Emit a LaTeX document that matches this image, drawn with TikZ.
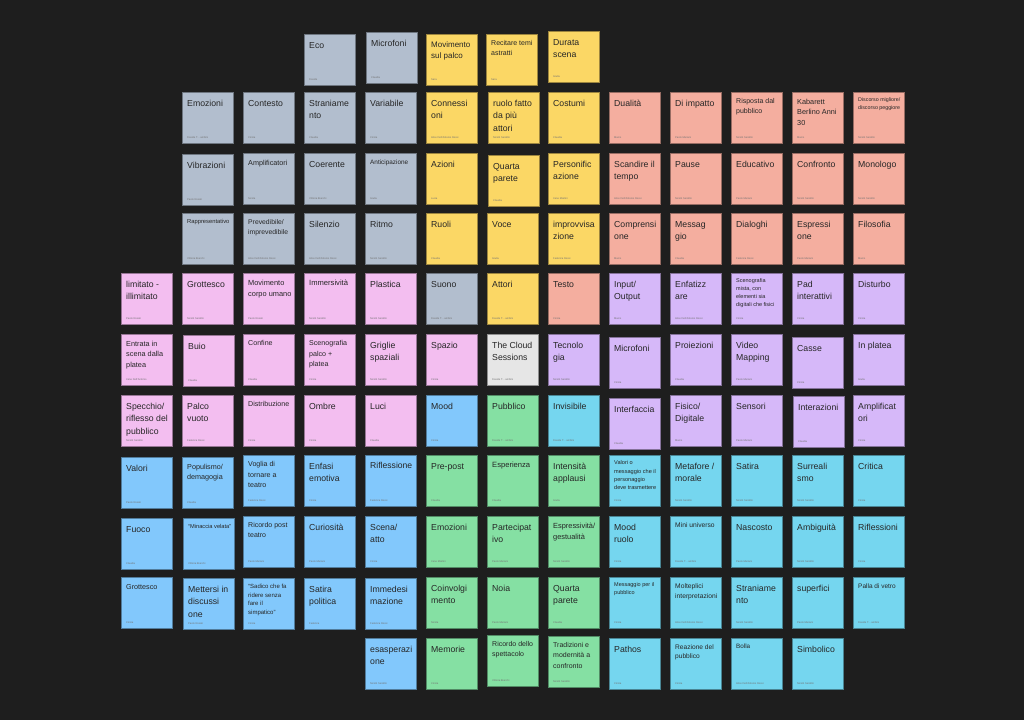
\documentclass[tikz,border=0pt]{standalone}
\usepackage{fontspec}
\usepackage{tikz}
\usetikzlibrary{positioning}
\newfontfamily\notefont{Liberation Sans}
\definecolor{bg}{HTML}{1E1E1E}
\definecolor{cgray}{HTML}{B2BECE}
\definecolor{cyellow}{HTML}{FBD765}
\definecolor{csalmon}{HTML}{F4AE9F}
\definecolor{cpink}{HTML}{F3BEF0}
\definecolor{cviolet}{HTML}{D6B8F9}
\definecolor{cblue}{HTML}{82C8FC}
\definecolor{cgreen}{HTML}{85E0A3}
\definecolor{cteal}{HTML}{75D6EF}
\definecolor{cwhite}{HTML}{E6E6E6}
% sticky note: [font size]{name}{x}{y}{colour}{text}{author}
\newcommand{\sticky}[7][8.7]{%
  \node[note, fill=#5, draw=#5!62!black] (#2) at (#3,#4) {};
  \node[notetext, font=\notefont\fontsize{#1}{\fpeval{1.45*#1}}\selectfont]
    (#2-t) at ([shift={(5,0.54*#1+2.5)}]#2.north west) {\rule{0pt}{\fpeval{0.76*#1}pt}#6};
  \node[notewho] (#2-a) at ([shift={(5,-5)}]#2.south west) {#7};
}
\begin{document}
\begin{tikzpicture}[x=1pt, y=-1pt,
    note/.style={anchor=north west, minimum width=51pt, minimum height=51pt,
      inner sep=0pt, outer sep=0pt, line width=0.6pt},
    notetext/.style={anchor=north west, inner sep=0pt, align=left, text=black!85},
    notewho/.style={anchor=base west, inner sep=0pt, text=black!55,
      font=\notefont\fontsize{2.6}{3}\selectfont}]
  % background %
  \fill[bg] (0,0) rectangle (1024,720);
  \useasboundingbox (0,0) rectangle (1024,720);
  % row 0 %
  \sticky{eco}{304}{34}{cgray}{Eco}{Davide}
  \sticky{mic}{366}{32}{cgray}{Microfoni}{Claudia}
  \sticky[8.0]{movpalco}{426}{34}{cyellow}{Movimento\\sul palco}{Sara}
  \sticky[7.0]{recitare}{486}{34}{cyellow}{Recitare temi\\astratti}{Sara}
  \sticky{durata}{548}{31}{cyellow}{Durata\\scena}{Giulia}
  % row 1 %
  \sticky{emoz}{182}{92}{cgray}{Emozioni}{Davide T... ambini}
  \sticky{contesto}{243}{92}{cgray}{Contesto}{Cinzia}
  \sticky{stran}{304}{92}{cgray}{Straniame\\nto}{Claudia}
  \sticky{variab}{365}{92}{cgray}{Variabile}{Cinzia}
  \sticky{conn}{426}{92}{cyellow}{Connessi\\oni}{Alice Dell'Antonio Rossi}
  \sticky{ruolo}{488}{92}{cyellow}{ruolo fatto\\da più\\attori}{Nicolò Serafini}
  \sticky{costumi}{548}{92}{cyellow}{Costumi}{Claudia}
  \sticky{duali}{609}{92}{csalmon}{Dualità}{Marco}
  \sticky{impatto}{670}{92}{csalmon}{Di impatto}{Paolo Mariani}
  \sticky[7.0]{risposta}{731}{92}{csalmon}{Risposta dal\\pubblico}{Nicolò Serafini}
  \sticky[7.3]{kabarett}{792}{92}{csalmon}{Kabarett\\Berlino Anni\\30}{Marco}
  \sticky[5.3]{discorso}{853}{92}{csalmon}{Discorso migliore/\\discorso peggiore}{Nicolò Serafini}
  % row 2 %
  \sticky{vibr}{182}{154}{cgray}{Vibrazioni}{Paolo Rosati}
  \sticky[7.2]{ampli}{243}{153}{cgray}{Amplificatori}{Nicola}
  \sticky{coer}{304}{153}{cgray}{Coerente}{Vittoria Bianchi}
  \sticky[6.4]{antic}{365}{153}{cgray}{Anticipazione}{Giulia}
  \sticky{azioni}{426}{153}{cyellow}{Azioni}{Lucia}
  \sticky{quartay}{488}{155}{cyellow}{Quarta\\parete}{Claudia}
  \sticky{person}{548}{153}{cyellow}{Personific\\azione}{Irene Martini}
  \sticky{scandire}{609}{153}{csalmon}{Scandire il\\tempo}{Alice Dell'Antonio Rossi}
  \sticky{pause}{670}{153}{csalmon}{Pause}{Nicolò Serafini}
  \sticky{educ}{731}{153}{csalmon}{Educativo}{Paolo Mariani}
  \sticky{confronto}{792}{153}{csalmon}{Confronto}{Nicolò Serafini}
  \sticky{monol}{853}{153}{csalmon}{Monologo}{Nicolò Serafini}
  % row 3 %
  \sticky[5.8]{rappr}{182}{213}{cgray}{Rappresentativo}{Vittoria Bianchi}
  \sticky[6.8]{preved}{243}{213}{cgray}{Prevedibile/\\imprevedibile}{Alice Dell'Antonio Rossi}
  \sticky{silenzio}{304}{213}{cgray}{Silenzio}{Alice Dell'Antonio Rossi}
  \sticky{ritmo}{365}{213}{cgray}{Ritmo}{Nicolò Serafini}
  \sticky{ruoli}{426}{213}{cyellow}{Ruoli}{Claudia}
  \sticky{voce}{487}{213}{cyellow}{Voce}{Giulia}
  \sticky{improv}{548}{213}{cyellow}{improvvisa\\zione}{Federica Rossi}
  \sticky{compr}{609}{213}{csalmon}{Comprensi\\one}{Marco}
  \sticky{messag}{670}{213}{csalmon}{Messag\\gio}{Claudia}
  \sticky{dialoghi}{731}{213}{csalmon}{Dialoghi}{Federica Rossi}
  \sticky{espress}{792}{213}{csalmon}{Espressi\\one}{Paolo Mariani}
  \sticky{filos}{853}{213}{csalmon}{Filosofia}{Marco}
  % row 4 %
  \sticky{limitato}{121}{273}{cpink}{limitato -\\illimitato}{Paolo Rosati}
  \sticky{grottp}{182}{273}{cpink}{Grottesco}{Nicolò Serafini}
  \sticky[7.4]{movcorpo}{243}{273}{cpink}{Movimento\\corpo umano}{Paolo Rosati}
  \sticky[7.6]{immers}{304}{273}{cpink}{Immersività}{Nicolò Serafini}
  \sticky{plastica}{365}{273}{cpink}{Plastica}{Nicolò Serafini}
  \sticky{suono}{426}{273}{cgray}{Suono}{Davide T... ambini}
  \sticky{attori}{487}{273}{cyellow}{Attori}{Davide T... ambini}
  \sticky{testo}{548}{273}{csalmon}{Testo}{Cinzia}
  \sticky{input}{609}{273}{cviolet}{Input/\\Output}{Marco}
  \sticky{enfat}{670}{273}{cviolet}{Enfatizz\\are}{Alice Dell'Antonio Rossi}
  \sticky[5.5]{scenmista}{731}{273}{cviolet}{Scenografia\\mista, con\\elementi sia\\digitali che fisici}{Cinzia}
  \sticky{pad}{792}{273}{cviolet}{Pad\\interattivi}{Cinzia}
  \sticky{disturbo}{853}{273}{cviolet}{Disturbo}{Cinzia}
  % row 5 %
  \sticky[7.3]{entrata}{121}{334}{cpink}{Entrata in\\scena dalla\\platea}{Irene Dell'Antonio}
  \sticky{buio}{183}{335}{cpink}{Buio}{Claudia}
  \sticky[7.1]{confine}{243}{334}{cpink}{Confine}{Claudia}
  \sticky[7.1]{scenpalco}{304}{334}{cpink}{Scenografia\\palco +\\platea}{Cinzia}
  \sticky{griglie}{365}{334}{cpink}{Griglie\\spaziali}{Nicolò Serafini}
  \sticky{spazio}{426}{334}{cpink}{Spazio}{Cinzia}
  \sticky{cloud}{487}{334}{cwhite}{The Cloud\\Sessions}{Davide T... ambini}
  \sticky{tecno}{548}{334}{cviolet}{Tecnolo\\gia}{Nicolò Serafini}
  \sticky{micv}{609}{337}{cviolet}{Microfoni}{Cinzia}
  \sticky{proiez}{670}{334}{cviolet}{Proiezioni}{Claudia}
  \sticky{video}{731}{334}{cviolet}{Video\\Mapping}{Paolo Mariani}
  \sticky{casse}{792}{337}{cviolet}{Casse}{Cinzia}
  \sticky{inplatea}{853}{334}{cviolet}{In platea}{Giulia}
  % row 6 %
  \sticky{specchio}{121}{395}{cpink}{Specchio/\\riflesso del\\pubblico}{Nicolò Serafini}
  \sticky{palco}{182}{395}{cpink}{Palco\\vuoto}{Federica Rossi}
  \sticky[7.1]{distrib}{243}{395}{cpink}{Distribuzione}{Cinzia}
  \sticky{ombre}{304}{395}{cpink}{Ombre}{Cinzia}
  \sticky{luci}{365}{395}{cpink}{Luci}{Claudia}
  \sticky{mood}{426}{395}{cblue}{Mood}{Cinzia}
  \sticky{pubbl}{487}{395}{cgreen}{Pubblico}{Davide T... ambini}
  \sticky{invis}{548}{395}{cteal}{Invisibile}{Davide T... ambini}
  \sticky{interf}{609}{398}{cviolet}{Interfaccia}{Claudia}
  \sticky{fisico}{670}{395}{cviolet}{Fisico/\\Digitale}{Marco}
  \sticky{sensori}{731}{395}{cviolet}{Sensori}{Paolo Mariani}
  \sticky{interaz}{793}{396}{cviolet}{Interazioni}{Claudia}
  \sticky{amplv}{853}{395}{cviolet}{Amplificat\\ori}{Cinzia}
  % row 7 %
  \sticky{valori}{121}{457}{cblue}{Valori}{Paolo Rosati}
  \sticky[7.2]{populismo}{182}{457}{cblue}{Populismo/\\demagogia}{Claudia}
  \sticky[7.1]{voglia}{243}{455}{cblue}{Voglia di\\tornare a\\teatro}{Federica Rossi}
  \sticky{enfasi}{304}{455}{cblue}{Enfasi\\emotiva}{Cinzia}
  \sticky[8.6]{rifless}{365}{455}{cblue}{Riflessione}{Federica Rossi}
  \sticky{prepost}{426}{455}{cgreen}{Pre-post}{Claudia}
  \sticky[7.6]{esper}{487}{455}{cgreen}{Esperienza}{Claudia}
  \sticky{intens}{548}{455}{cgreen}{Intensità\\applausi}{Giulia}
  \sticky[5.6]{valmess}{609}{455}{cteal}{Valori o\\messaggio che il\\personaggio\\deve trasmettere}{Cinzia}
  \sticky{metafore}{670}{455}{cteal}{Metafore /\\morale}{Nicolò Serafini}
  \sticky{satira}{731}{455}{cteal}{Satira}{Nicolò Serafini}
  \sticky{surreal}{792}{455}{cteal}{Surreali\\smo}{Nicolò Serafini}
  \sticky{critica}{853}{455}{cteal}{Critica}{Cinzia}
  % row 8 %
  \sticky{fuoco}{121}{518}{cblue}{Fuoco}{Claudia}
  \sticky[5.7]{minaccia}{183}{518}{cblue}{“Minaccia velata”}{Vittoria Bianchi}
  \sticky[7.0]{ricpost}{243}{516}{cblue}{Ricordo post\\teatro}{Paolo Mariani}
  \sticky{curios}{304}{516}{cblue}{Curiosità}{Paolo Mariani}
  \sticky{scena}{365}{516}{cblue}{Scena/\\atto}{Cinzia}
  \sticky{emozg}{426}{516}{cgreen}{Emozioni}{Irene Martini}
  \sticky{partec}{487}{516}{cgreen}{Partecipat\\ivo}{Paolo Mariani}
  \sticky[7.4]{gestual}{548}{516}{cgreen}{Espressività/\\gestualità}{Nicolò Serafini}
  \sticky{moodruolo}{609}{516}{cteal}{Mood\\ruolo}{Cinzia}
  \sticky[6.7]{miniuni}{670}{516}{cteal}{Mini universo}{Davide T... ambini}
  \sticky{nascosto}{731}{516}{cteal}{Nascosto}{Paolo Mariani}
  \sticky{ambig}{792}{516}{cteal}{Ambiguità}{Nicolò Serafini}
  \sticky{riflessioni}{853}{516}{cteal}{Riflessioni}{Cinzia}
  % row 9 %
  \sticky[7.2]{grottb}{121}{577}{cblue}{Grottesco}{Cinzia}
  \sticky{mettersi}{183}{578}{cblue}{Mettersi in\\discussi\\one}{Paolo Rosati}
  \sticky[6.0]{sadico}{243}{578}{cblue}{“Sadico che fa\\ridere senza\\fare il\\simpatico”}{Cinzia}
  \sticky{satpol}{304}{578}{cblue}{Satira\\politica}{Federica}
  \sticky{immedes}{365}{578}{cblue}{Immedesi\\mazione}{Federica Rossi}
  \sticky{coinv}{426}{577}{cgreen}{Coinvolgi\\mento}{Nicola}
  \sticky{noia}{487}{577}{cgreen}{Noia}{Paolo Mariani}
  \sticky{quartag}{548}{577}{cgreen}{Quarta\\parete}{Claudia}
  \sticky[5.5]{messpub}{609}{577}{cteal}{Messaggio per il\\pubblico}{Cinzia}
  \sticky[6.7]{moltepl}{670}{577}{cteal}{Molteplici\\interpretazioni}{Alice Dell'Antonio Rossi}
  \sticky{strant}{731}{577}{cteal}{Straniame\\nto}{Nicolò Serafini}
  \sticky{superf}{792}{577}{cteal}{superfici}{Paolo Mariani}
  \sticky[6.5]{palla}{853}{577}{cteal}{Palla di vetro}{Davide T... ambini}
  % row 10 %
  \sticky{esasp}{365}{638}{cblue}{esasperazi\\one}{Nicolò Serafini}
  \sticky{memorie}{426}{638}{cgreen}{Memorie}{Cinzia}
  \sticky[7.0]{ricspett}{487}{635}{cgreen}{Ricordo dello\\spettacolo}{Vittoria Bianchi}
  \sticky[7.0]{tradiz}{548}{636}{cgreen}{Tradizioni e\\modernità a\\confronto}{Nicolò Serafini}
  \sticky{pathos}{609}{638}{cteal}{Pathos}{Cinzia}
  \sticky[6.6]{reazione}{670}{638}{cteal}{Reazione del\\pubblico}{Cinzia}
  \sticky[6.3]{bolla}{731}{638}{cteal}{Bolla}{Alice Dell'Antonio Rossi}
  \sticky{simbol}{792}{638}{cteal}{Simbolico}{Nicolò Serafini}
\end{tikzpicture}
\end{document}
